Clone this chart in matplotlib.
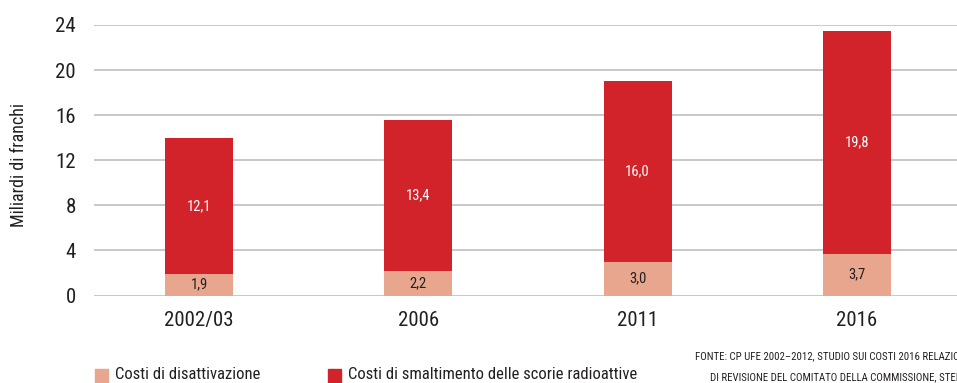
import numpy as np
import matplotlib
matplotlib.use("Agg")
import matplotlib.pyplot as plt
from matplotlib import font_manager
from matplotlib.patches import Rectangle

# costs in billions of francs
years = ["2002/03", "2006", "2011", "2016"]
decommissioning = [1.9, 2.2, 3.0, 3.7]
waste_disposal = [12.1, 13.4, 16.0, 19.8]
yticks = [0, 4, 8, 12, 16, 20, 24]

RED = "#d2232a"
SALMON = "#e9a68f"
GRID = "#c4c4c4"
TEXT = "#231f20"

# pick a narrow face if one is around
names = {f.name for f in font_manager.fontManager.ttflist}
family = "DejaVu Sans"
for cand in ["Liberation Sans Narrow", "DejaVu Sans Condensed", "Roboto Condensed", "Open Sans Condensed"]:
    if cand in names:
        family = cand
        break
plt.rcParams["font.family"] = [family, "DejaVu Sans"]

W, H = 957, 383
fig = plt.figure(figsize=(W / 100, H / 100), dpi=100)
ax = fig.add_axes([94 / W, (H - 295.5) / H, (W - 94) / W, 270.5 / H])

x = np.arange(len(years))
bw = 0.31
ax.bar(x, decommissioning, bw, color=SALMON, zorder=3)
ax.bar(x, waste_disposal, bw, bottom=decommissioning, color=RED, zorder=3)

for xi, d, w in zip(x, decommissioning, waste_disposal):
    ax.text(xi, d / 2, f"{d:.1f}".replace(".", ","), ha="center", va="center",
            color=TEXT, fontsize=10.5, zorder=4)
    ax.text(xi, d + w / 2, f"{w:.1f}".replace(".", ","), ha="center", va="center",
            color="white", fontsize=10.5, zorder=4)

ax.set_ylim(0, 24)
ax.set_xlim(-0.4795, 3.457)
ax.set_yticks(yticks)
ax.set_yticklabels([str(t) for t in yticks], fontsize=15, color=TEXT)
ax.set_xticks(x)
ax.set_xticklabels(years, fontsize=15, color=TEXT)
ax.tick_params(axis="y", length=0, pad=13)
ax.tick_params(axis="x", length=0, pad=11)
ax.grid(axis="y", color=GRID, linewidth=1.3, zorder=0)
ax.set_axisbelow(True)
for s in ax.spines.values():
    s.set_visible(False)

fig.text(19 / W, (H - 165) / H, "Miliardi di franchi", rotation=90, ha="center",
         va="center", fontsize=13, color=TEXT)

# legend along the bottom edge
for x0, col, label in [(95, SALMON, "Costi di disattivazione"),
                       (328, RED, "Costi di smaltimento delle scorie radioattive")]:
    fig.patches.append(Rectangle((x0 / W, 0), 13 / W, 14 / H, transform=fig.transFigure,
                                 color=col, figure=fig))
    fig.text((x0 + 20) / W, 4 / H, label, ha="left", va="baseline", fontsize=12, color=TEXT)

fig.text(695 / W, (H - 356) / H,
         "FONTE: CP UFE 2002–2012, STUDIO SUI COSTI 2016 RELAZIONE",
         ha="left", va="center", fontsize=7.8, color=TEXT)
fig.text(710 / W, (H - 377) / H,
         "DI REVISIONE DEL COMITATO DELLA COMMISSIONE, STENFO",
         ha="left", va="center", fontsize=7.8, color=TEXT)

fig.savefig("out.png", dpi=100)
